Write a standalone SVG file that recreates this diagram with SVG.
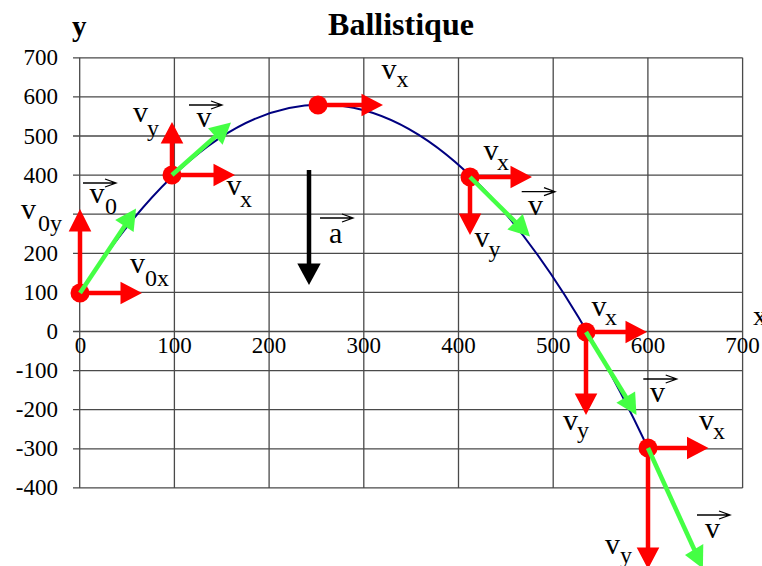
<svg xmlns="http://www.w3.org/2000/svg" width="762" height="566" viewBox="0 0 762 566">
<style>
text{font-family:"Liberation Serif","Times New Roman",serif;fill:#000}
.tick{font-size:23px}
.v{font-size:30px}
.sub{font-size:24px}
.grid{stroke:#4a4a4a;stroke-width:1.3;fill:none}
.curve{stroke:#000080;stroke-width:2;fill:none}
.rs{stroke:#ff0000;stroke-width:4.5;fill:none}
.rh{fill:#ff0000}
.gs{stroke:#44ff44;stroke-width:4.5;fill:none}
.gh{fill:#44ff44}
.dot{fill:#ff0000}
.vec{stroke:#000;stroke-width:1.3;fill:none}
</style>
<rect width="762" height="566" fill="#fff"/>
<g id="grid" class="grid">
<path d="M73,57.8H742.6M73,96.9H742.6M73,136H742.6M73,175.1H742.6M73,214.2H742.6M73,253.3H742.6M73,292.4H742.6M73,331.5H742.6M73,370.6H742.6M73,409.7H742.6M73,448.8H742.6M73,487.9H742.6"/>
<path d="M79.7,57.8V487.9M174.4,57.8V487.9M269.1,57.8V487.9M363.8,57.8V487.9M458.5,57.8V487.9M553.2,57.8V487.9M647.9,57.8V487.9M742.6,57.8V487.9"/>
</g>
<g id="axes-labels">
<text x="401" y="35" text-anchor="middle" font-size="32" font-weight="bold">Ballistique</text>
<text x="72" y="36" font-size="29" font-weight="bold">y</text>
<text x="753" y="325" font-size="28">x</text>
<g class="tick" text-anchor="end">
<text x="58" y="65.3">700</text>
<text x="58" y="104.4">600</text>
<text x="58" y="143.5">500</text>
<text x="58" y="182.6">400</text>
<text x="58" y="260.8">200</text>
<text x="58" y="299.9">100</text>
<text x="58" y="339">0</text>
<text x="58" y="378.1">-100</text>
<text x="58" y="417.2">-200</text>
<text x="58" y="456.3">-300</text>
<text x="58" y="495.4">-400</text>
</g>
<g class="tick" text-anchor="middle">
<text x="80.5" y="353">0</text>
<text x="174.4" y="353">100</text>
<text x="269.1" y="353">200</text>
<text x="363.8" y="353">300</text>
<text x="458.5" y="353">400</text>
<text x="553.2" y="353">500</text>
<text x="647.9" y="353">600</text>
<text x="742.6" y="353">700</text>
</g>
</g>
<path id="trajectory" class="curve" d="M80,293 Q364,-150 648,448"/>
<g id="accel">
<path d="M309,170V265" stroke="#000" stroke-width="4.5"/>
<path d="M297.3,263.5L320.7,263.5L309,285Z" fill="#000"/>
<path class="vec" d="M320,218H353M342,214L353,218L342,222"/>
<text class="v" x="329" y="243">a</text>
</g>
<g id="p1">
<circle class="dot" cx="80" cy="293" r="9.5"/>
<path class="rs" d="M80,293V231M80,293H121"/>
<path class="rh" d="M68.7,231.5H91.3L80,209ZM120.5,281.7V304.3L142,293Z"/>
<path class="gs" d="M80,293L125,225.5"/>
<path class="gh" d="M133.6,232.1L115.2,219.9L136,208.5Z"/>
<path class="vec" d="M83,183H116M105,179L116,183L105,187"/>
<text class="v" x="89.5" y="203">v<tspan class="sub" x="105" y="213.5">0</tspan></text>
<text class="v" x="21" y="218.5">v<tspan class="sub" x="38" y="230.5">0y</tspan></text>
<text class="v" x="130" y="273">v<tspan class="sub" x="145" y="286">0x</tspan></text>
</g>
<g id="p2">
<circle class="dot" cx="172" cy="175" r="9.5"/>
<path class="rs" d="M172,175V143M172,175H214"/>
<path class="rh" d="M160.7,143.5H183.3L172,122ZM213.5,163.7V186.3L235,175Z"/>
<path class="gs" d="M172,175L216,136"/>
<path class="gh" d="M222.6,144.7L208,128.2L231,122.5Z"/>
<path class="vec" d="M189,105H222M211,101L222,105L211,109"/>
<text class="v" x="196.5" y="127">v</text>
<text class="v" x="133" y="122">v<tspan class="sub" x="147" y="136">y</tspan></text>
<text class="v" x="226.5" y="195">v<tspan class="sub" x="240" y="206.5">x</tspan></text>
</g>
<g id="p3">
<circle class="dot" cx="318" cy="105" r="9.5"/>
<path class="rs" d="M318,105H362"/>
<path class="rh" d="M361.5,93.7V116.3L383,105Z"/>
<text class="v" x="381.5" y="78.5">v<tspan class="sub" x="396.5" y="87">x</tspan></text>
</g>
<g id="p4">
<circle class="dot" cx="470" cy="177" r="9.5"/>
<path class="rs" d="M470,177V214M470,177H511"/>
<path class="rh" d="M458.7,213.5H481.3L470,235ZM510.5,165.7V188.3L532,177Z"/>
<path class="gs" d="M470,177L516,222.5"/>
<path class="gh" d="M507.4,229.5L522.8,213.9L530,236.5Z"/>
<path class="vec" d="M521.7,191.7H555M544,187.7L555,191.7L544,195.7"/>
<text class="v" x="528" y="215">v</text>
<text class="v" x="483.5" y="160">v<tspan class="sub" x="497" y="170">x</tspan></text>
<text class="v" x="474.5" y="247">v<tspan class="sub" x="488.5" y="256.5">y</tspan></text>
</g>
<g id="p5">
<circle class="dot" cx="586" cy="332" r="9.5"/>
<path class="rs" d="M586,332V394M586,332H626"/>
<path class="rh" d="M574.7,393.5H597.3L586,415ZM625.5,320.7V343.3L647,332Z"/>
<path class="gs" d="M586,332L626.5,398"/>
<path class="gh" d="M616.4,402.8L635.1,391.4L636.5,415Z"/>
<path class="vec" d="M643.3,379H676.7M665.7,375L676.7,379L665.7,383"/>
<text class="v" x="650" y="402">v</text>
<text class="v" x="591.5" y="316">v<tspan class="sub" x="605" y="325">x</tspan></text>
<text class="v" x="563" y="430">v<tspan class="sub" x="577" y="438">y</tspan></text>
</g>
<g id="p6">
<circle class="dot" cx="648" cy="448" r="9.5"/>
<path class="rs" d="M648,448V548M648,448H688"/>
<path class="rh" d="M636.7,547.5H659.3L648,569ZM687,436.7V459.3L708.5,448Z"/>
<path class="gs" d="M648,448L694.5,550"/>
<path class="gh" d="M685,555L703.3,544L702.9,568.6Z"/>
<path class="vec" d="M697,515H730M719,511L730,515L719,519"/>
<text class="v" x="705" y="538">v</text>
<text class="v" x="699" y="430">v<tspan class="sub" x="713" y="439">x</tspan></text>
<text class="v" x="605" y="553.5">v<tspan class="sub" x="620" y="563">y</tspan></text>
</g>
</svg>
